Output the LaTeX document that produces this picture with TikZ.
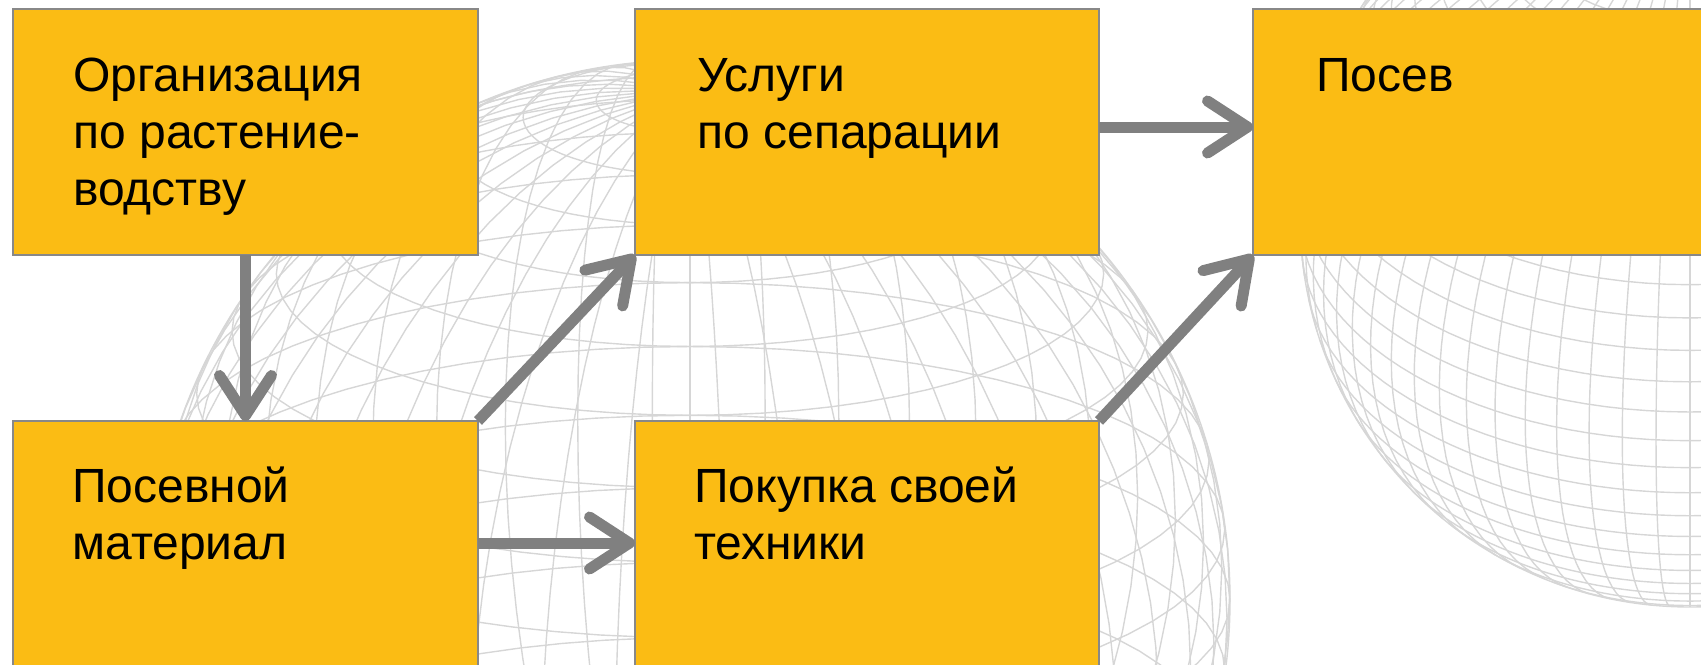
\documentclass[tikz,border=0pt]{standalone}
\usepackage{fontspec}
\setmainfont{Liberation Sans}
\usetikzlibrary{arrows.meta}
\definecolor{boxfill}{HTML}{FBBC14}
\definecolor{boxline}{HTML}{888888}
\definecolor{arrowgray}{HTML}{808080}
\definecolor{gridgray}{HTML}{D6D6D6}
% #1 cx, #2 cy, #3 R, #4 tilt : only the front half
\newcommand{\frontsphere}[4]{%
  \foreach \p in {-85,-80,...,85}{%
    \pgfmathsetmacro\cc{max(-1,min(1,-tan(\p)*tan(#4)))}%
    \pgfmathsetmacro\lz{acos(\cc)}%
    \ifdim\lz pt>0.5pt
      \draw[gridline] plot[domain=-\lz:\lz, samples=61, variable=\l]
        ({#1+#3*cos(\p)*sin(\l)},{#2-#3*(sin(\p)*cos(#4)-cos(\p)*cos(\l)*sin(#4))});
    \fi
  }%
  \foreach \l in {0,5,...,355}{%
    \pgfmathsetmacro\lo{-atan2(cos(\l)*cos(#4),sin(#4))}%
    \draw[gridline] plot[domain=\lo:90, samples=41, variable=\p]
      ({#1+#3*cos(\p)*sin(\l)},{#2-#3*(sin(\p)*cos(#4)-cos(\p)*cos(\l)*sin(#4))});
  }%
  \draw[gridline] (#1,#2) circle[radius=#3];
}
% transparent sphere: both halves
\newcommand{\wholesphere}[4]{%
  \foreach \p in {-80,-72,...,80}{%
    \draw[gridline] plot[domain=-180:180, samples=73, variable=\l]
      ({#1+#3*cos(\p)*sin(\l)},{#2-#3*(sin(\p)*cos(#4)-cos(\p)*cos(\l)*sin(#4))});
  }%
  \foreach \l in {0,8,...,176}{%
    \draw[gridline] plot[domain=-180:180, samples=73, variable=\p]
      ({#1+#3*cos(\p)*sin(\l)},{#2-#3*(sin(\p)*cos(#4)-cos(\p)*cos(\l)*sin(#4))});
  }%
  \draw[gridline] (#1,#2) circle[radius=#3];
}
\begin{document}
\begin{tikzpicture}[x=0.5pt,y=-0.5pt,
  stepbox/.style={draw=boxline, line width=1pt, fill=boxfill, inner sep=0pt, outer sep=0pt},
  lbl/.style={anchor=base west, inner sep=0pt, font=\fontsize{24}{28.5}\selectfont},
  flow/.style={draw=arrowgray, line width=5.5pt, -{Straight Barb[length=20pt,width=26pt,round]}},
  gridline/.style={draw=gridgray, line width=0.7pt}]
\useasboundingbox (0,0) rectangle (1701,664);
\begin{scope}
\clip (0,0) rectangle (1701,664);
% background wireframes
\wholesphere{690}{600}{540}{-20}
\frontsphere{1690}{217}{390}{35}
% boxes
\node[stepbox, minimum width=232.5pt, minimum height=123pt] (b1) at (245.5,132) {};
\node[stepbox, minimum width=232pt, minimum height=123pt] (b2) at (867,132) {};
\node[stepbox, minimum width=233.5pt, minimum height=123pt] (b3) at (1486.5,132) {};
\node[stepbox, minimum width=232.5pt, minimum height=139.5pt] (b4) at (245.5,560.5) {};
\node[stepbox, minimum width=232pt, minimum height=139.5pt] (b5) at (867,560.5) {};
% texts
\node[lbl] (t1) at (73,91) {\begin{tabular}[t]{@{}l@{}}Организация\\по растение-\\водству\end{tabular}};
\node[lbl] (t2) at (697,91) {\begin{tabular}[t]{@{}l@{}}Услуги\\по сепарации\end{tabular}};
\node[lbl] (t3) at (1316,91) {Посев};
\node[lbl] (t4) at (72,502) {\begin{tabular}[t]{@{}l@{}}Посевной\\материал\end{tabular}};
\node[lbl] (t5) at (694,502) {\begin{tabular}[t]{@{}l@{}}Покупка своей\\техники\end{tabular}};
% connectors
\coordinate (ytop) at (0,127);
\coordinate (ybot) at (0,543);
\draw[flow] (b1.south) -- (b4.north);
\draw[flow] (b4.north east) -- (b2.south west);
\draw[flow] (b4.east |- ybot) -- (b5.west |- ybot);
\draw[flow] (b2.east |- ytop) -- (b3.west |- ytop);
\draw[flow] (b5.north east) -- (b3.south west);
\end{scope}
\end{tikzpicture}
\end{document}
